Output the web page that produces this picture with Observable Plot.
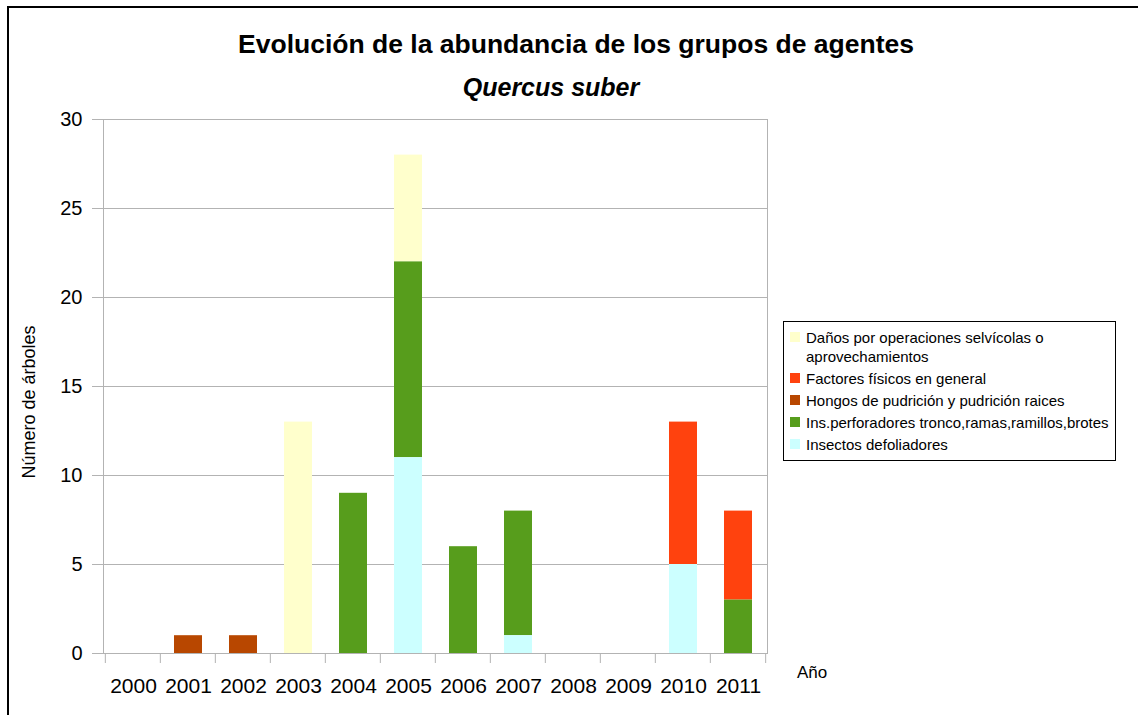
<!DOCTYPE html>
<html>
<head>
<meta charset="utf-8">
<script src="https://cdn.jsdelivr.net/npm/d3@7"></script>
<script src="https://cdn.jsdelivr.net/npm/@observablehq/plot@0.6"></script>
<style>
  html, body { margin: 0; padding: 0; background: #fff; }
  #wrap { position: relative; width: 1138px; height: 715px; overflow: hidden; font-family: "Liberation Sans", Arial, sans-serif; color: #000; }
  #chart { position: absolute; left: 0; top: 0; }
  #border { position: absolute; left: 7px; top: 6px; width: 1200px; height: 800px; border-left: 2px solid #000; border-top: 2px solid #000; }
  .title { position: absolute; left: 176px; width: 800px; text-align: center; font-weight: bold; font-size: 26.5px; top: 29px; line-height: 30px; white-space: nowrap; }
  .subtitle { position: absolute; left: 151px; width: 800px; text-align: center; font-weight: bold; font-style: italic; font-size: 25px; top: 72px; line-height: 30px; white-space: nowrap; }
  .ylabel { position: absolute; left: 29px; top: 402px; font-size: 18px; white-space: nowrap; transform: translate(-50%, -50%) rotate(-90deg); }
  .xlabel { position: absolute; left: 797px; top: 663px; font-size: 17px; white-space: nowrap; }
  #legend { position: absolute; left: 783px; top: 321px; width: 333px; height: 140px; border: 1px solid #000; box-sizing: border-box; padding: 6px 0 0 6px; }
  .item { display: flex; align-items: flex-start; font-size: 15px; line-height: 19px; margin-bottom: 3px; }
  .sw { width: 10px; height: 10px; margin: 4px 6px 0 0; flex: none; }
  .lt { width: 318px; }
</style>
</head>
<body>
<div id="wrap">
  <div id="border"></div>
  <div id="chart"></div>
  <div class="title">Evolución de la abundancia de los grupos de agentes</div>
  <div class="subtitle">Quercus suber</div>
  <div class="ylabel">Número de árboles</div>
  <div class="xlabel">Año</div>
  <div id="legend"></div>
</div>
<script>
const years = ["2000","2001","2002","2003","2004","2005","2006","2007","2008","2009","2010","2011"];
const seriesNames = [
  "Daños por operaciones selvícolas o aprovechamientos",
  "Factores físicos en general",
  "Hongos de pudrición y pudrición raices",
  "Ins.perforadores tronco,ramas,ramillos,brotes",
  "Insectos defoliadores"
];
const seriesColors = ["#FFFFCC", "#FF420E", "#B84700", "#579D1C", "#CCFFFF"];
const danos        = [0, 0, 0, 13, 0, 6, 0, 0, 0, 0, 0, 0];
const factores     = [0, 0, 0, 0, 0, 0, 0, 0, 0, 0, 8, 5];
const hongos       = [0, 1, 1, 0, 0, 0, 0, 0, 0, 0, 0, 0];
const perforadores = [0, 0, 0, 0, 9, 11, 6, 7, 0, 0, 0, 3];
const defoliadores = [0, 0, 0, 0, 0, 11, 0, 1, 0, 0, 5, 0];
const yTicks = [0, 5, 10, 15, 20, 25, 30];

const valuesBySeries = [danos, factores, hongos, perforadores, defoliadores];
const rows = [];
seriesNames.forEach((s, si) => {
  years.forEach((y, yi) => rows.push({year: y, series: s, value: valuesBySeries[si][yi]}));
});
// bottom-to-top stacking order
const stackOrder = seriesNames.slice().reverse();

const gridColor = "#b3b3b3";

function xBoundaryTicks(index, scales, values, dimensions) {
  const x = scales.x;
  const {width, height, marginLeft, marginRight, marginBottom} = dimensions;
  const step = (width - marginLeft - marginRight) / years.length;
  const g = d3.create("svg:g").attr("stroke", gridColor).attr("stroke-width", 1);
  const y0 = height - marginBottom;
  const bounds = years.map(yr => x(yr) + (x.bandwidth ? x.bandwidth() : 0) / 2 - step / 2);
  bounds.push(bounds[bounds.length - 1] + step);
  for (const b of bounds) {
    g.append("line").attr("x1", b).attr("x2", b).attr("y1", y0).attr("y2", y0 + 10);
  }
  return g.node();
}

const chart = Plot.plot({
  width: 1138,
  height: 715,
  marginLeft: 103,
  marginRight: 371,
  marginTop: 119,
  marginBottom: 62,
  style: {fontFamily: "'Liberation Sans', Arial, sans-serif", fontSize: "20px", color: "#000", background: "transparent"},
  x: {domain: years, paddingInner: 0.5, paddingOuter: 0.25, label: null},
  y: {domain: [0, 30], label: null},
  color: {domain: seriesNames, range: seriesColors},
  marks: [
    Plot.gridY(yTicks, {stroke: gridColor, strokeOpacity: 1}),
    Plot.frame({stroke: gridColor, strokeOpacity: 1}),
    Plot.barY(rows, {x: "year", y: "value", fill: "series", order: stackOrder}),
    Plot.axisY(yTicks, {tickSize: 11, tickPadding: 10, stroke: gridColor, fill: "#000", fontSize: 20, label: null}),
    Plot.axisX({tickSize: 0, tickPadding: 25, fill: "#000", fontSize: 21, label: null}),
    xBoundaryTicks
  ]
});
document.getElementById("chart").appendChild(chart);

const legend = document.getElementById("legend");
seriesNames.forEach((s, i) => {
  const item = document.createElement("div");
  item.className = "item";
  const sw = document.createElement("div");
  sw.className = "sw";
  sw.style.background = seriesColors[i];
  const t = document.createElement("div");
  t.className = "lt";
  t.textContent = s;
  item.appendChild(sw);
  item.appendChild(t);
  legend.appendChild(item);
});
</script>
</body>
</html>
